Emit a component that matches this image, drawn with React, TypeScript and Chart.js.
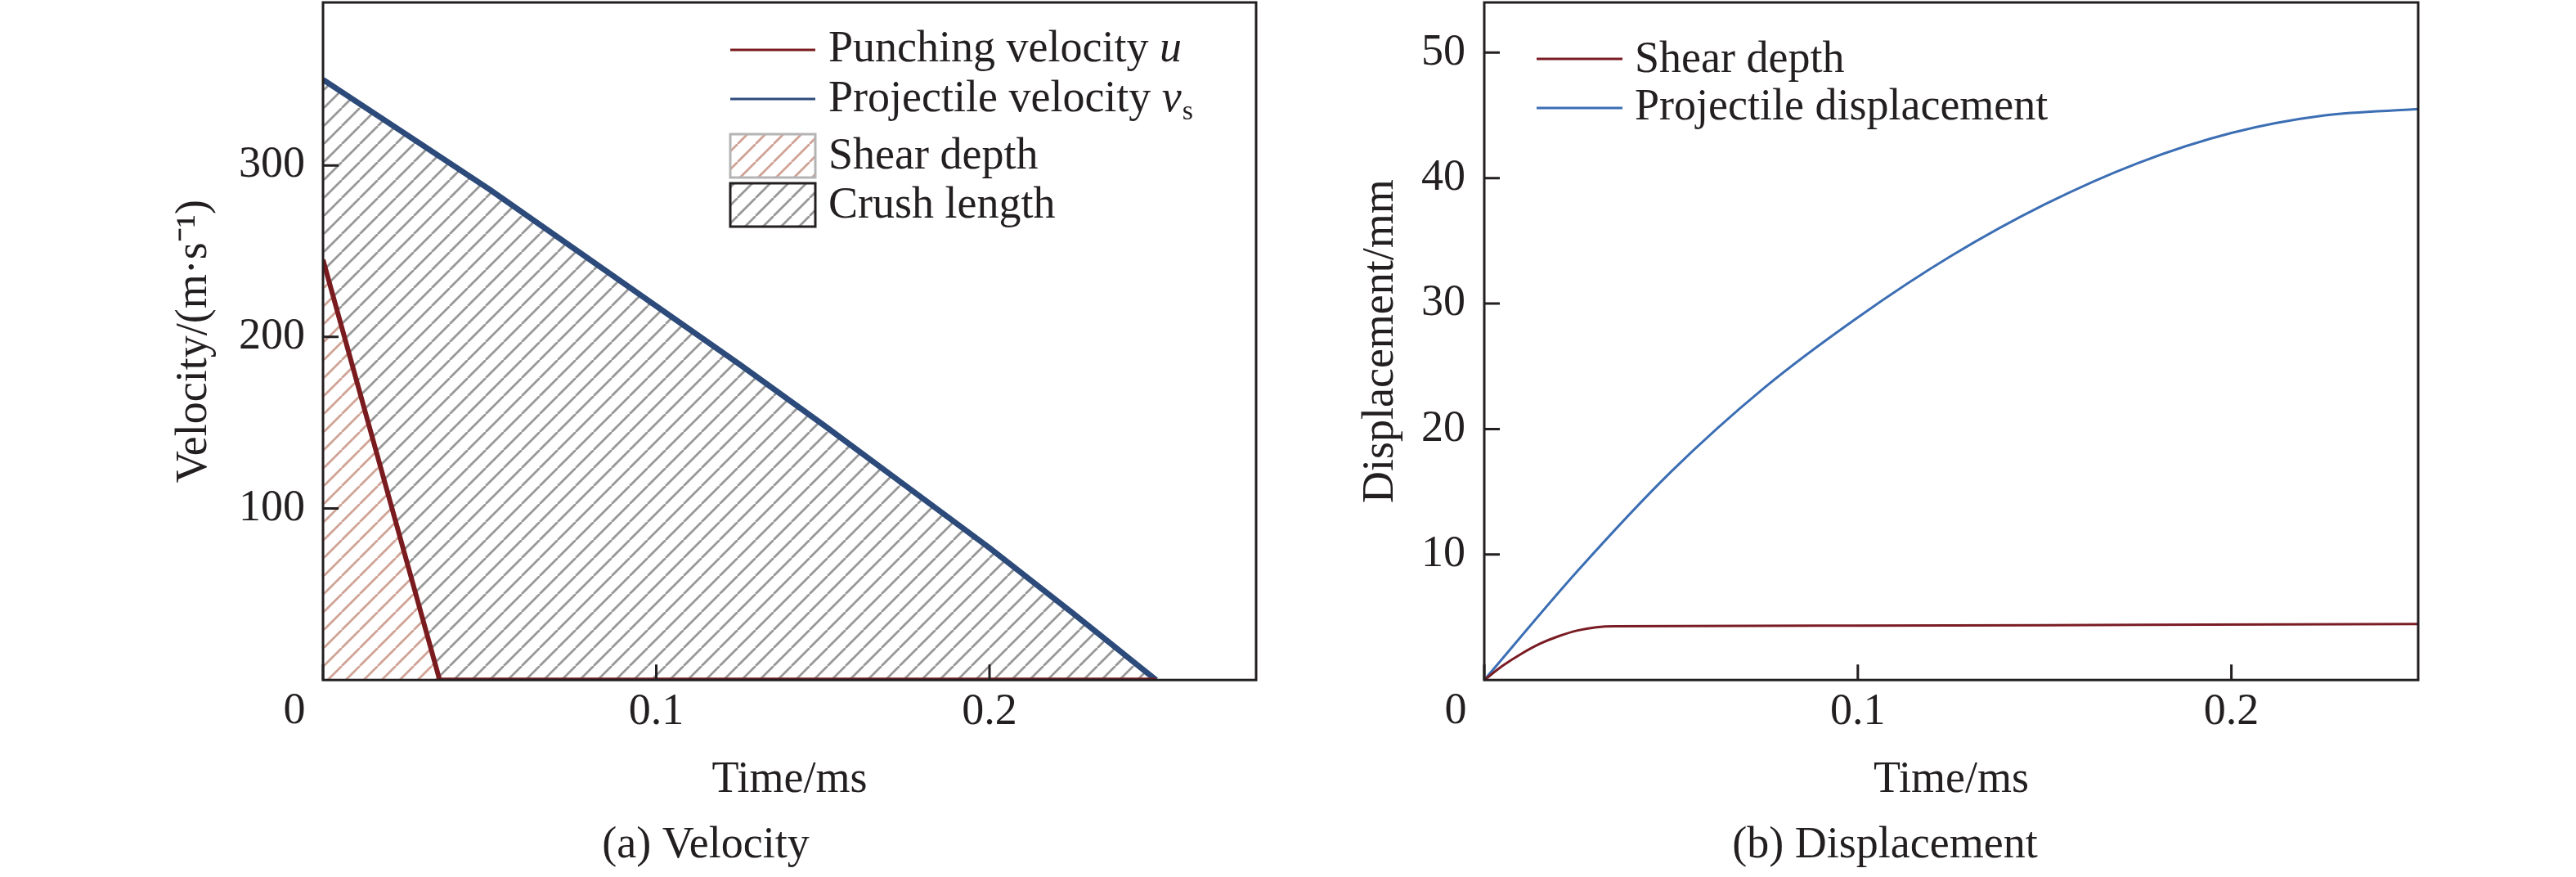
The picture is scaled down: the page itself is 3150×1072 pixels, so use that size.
import { Chart, registerables } from "chart.js"
import type { Plugin } from "chart.js"
import { useEffect, useRef } from "react"

Chart.register(...registerables)

// (a) velocity
const projectileTime = [0, 0.025, 0.05, 0.075, 0.1, 0.125, 0.15, 0.175, 0.2, 0.225, 0.25]
const projectileVelocity = [350, 318, 286, 252, 218, 184, 149, 113, 77, 39, 0]
const punchingTime = [0, 0.035, 0.25]
const punchingVelocity = [245, 0, 0]

// (b) displacement
const displacementTime = [0, 0.025, 0.05, 0.075, 0.1, 0.125, 0.15, 0.175, 0.2, 0.225, 0.25]
const projectileDisplacement = [0, 8.7, 16.6, 23.3, 28.9, 33.8, 37.9, 41.2, 43.6, 45.0, 45.5]
const shearTime = [0, 0.005, 0.01, 0.015, 0.02, 0.025, 0.03, 0.035, 0.1, 0.175, 0.25]
const shearDepth = [0, 1.15, 2.1, 2.9, 3.5, 3.95, 4.2, 4.28, 4.33, 4.4, 4.47]

// tick labels
const timeTicks = [0.1, 0.2]
const velocityTicks = [100, 200, 300]
const displacementTicks = [10, 20, 30, 40, 50]

const FONT = "'Liberation Serif', 'Times New Roman', Times, serif"
const INK = "#231f20"
const SIZE = 54

const RED_THICK = "#7a1c1f"
const BLUE_THICK = "#2c4a7a"
const RED_THIN = "#7a1c24"
const BLUE_THIN = "#3c6eb4"
const RED_HATCH = "rgb(208,163,150)"
const GRAY_HATCH = "rgb(152,152,152)"

const toPoints = (xs: number[], ys: number[]) => xs.map((x, i) => ({ x, y: ys[i] }))

// diagonal "////" hatch tile
function hatch(ctx: CanvasRenderingContext2D, color: string) {
  const size = 22
  const tile = document.createElement("canvas")
  tile.width = size
  tile.height = size
  const g = tile.getContext("2d")!
  g.strokeStyle = color
  g.lineWidth = 2.8
  g.beginPath()
  for (const k of [-1, 0, 1]) {
    g.moveTo(k * size, size)
    g.lineTo(k * size + size, 0)
  }
  g.stroke()
  return ctx.createPattern(tile, "repeat")!
}

// closed frame, inward ticks and the shared "0" at the corner
function framePlugin(xTicks: number[], yTicks: number[]): Plugin {
  return {
    id: "frame",
    afterDatasetsDraw(chart) {
      const { ctx, chartArea: a, scales } = chart
      ctx.save()
      ctx.strokeStyle = INK
      ctx.lineWidth = 3
      ctx.strokeRect(a.left, a.top, a.right - a.left, a.bottom - a.top)
      ctx.beginPath()
      xTicks.forEach((v) => {
        const px = scales.x.getPixelForValue(v)
        ctx.moveTo(px, a.bottom)
        ctx.lineTo(px, a.bottom - 19)
      })
      yTicks.forEach((v) => {
        const py = scales.y.getPixelForValue(v)
        ctx.moveTo(a.left, py)
        ctx.lineTo(a.left + 19, py)
      })
      ctx.stroke()
      ctx.fillStyle = INK
      ctx.font = `${SIZE}px ${FONT}`
      ctx.textAlign = "center"
      ctx.textBaseline = "middle"
      ctx.fillText("0", scales.x.getPixelForValue(0) - 35, a.bottom + 39)
      ctx.restore()
    },
  }
}

interface LegendPart {
  text: string
  italic?: boolean
  sub?: boolean
}

interface LegendEntry {
  kind: "line" | "box"
  stroke: string
  fill?: CanvasPattern | string
  y: number
  baseline: number
  parts: LegendPart[]
}

function legendPlugin(symbolX: number, symbolW: number, textX: number, entries: LegendEntry[]): Plugin {
  return {
    id: "insetLegend",
    afterDraw(chart) {
      const { ctx } = chart
      ctx.save()
      entries.forEach((e) => {
        ctx.lineWidth = 3
        ctx.strokeStyle = e.stroke
        if (e.kind === "line") {
          ctx.beginPath()
          ctx.moveTo(symbolX, e.y)
          ctx.lineTo(symbolX + symbolW, e.y)
          ctx.stroke()
        } else {
          ctx.fillStyle = e.fill as CanvasPattern
          ctx.fillRect(symbolX, e.y, symbolW, 53)
          ctx.strokeRect(symbolX, e.y, symbolW, 53)
        }
        let x = textX
        ctx.fillStyle = INK
        ctx.textAlign = "left"
        ctx.textBaseline = "alphabetic"
        e.parts.forEach((p) => {
          ctx.font = p.sub ? `34px ${FONT}` : `${p.italic ? "italic " : ""}${SIZE}px ${FONT}`
          ctx.fillText(p.text, x + (p.sub ? 1 : 0), e.baseline + (p.sub ? 10 : 0))
          x += ctx.measureText(p.text).width
        })
      })
      ctx.restore()
    },
  }
}

const font = { family: FONT, size: SIZE, weight: "normal" as const }

function axes(xMax: number, yMax: number, yTicks: number[], yTitle: string, yWidth: number, yTitlePad: number, yTickPad: number) {
  return {
    x: {
      type: "linear" as const,
      min: 0,
      max: xMax,
      afterBuildTicks: (s: any) => {
        s.ticks = timeTicks.map((value) => ({ value }))
      },
      afterFit: (s: any) => {
        s.height = 155
        s.paddingLeft = 0
        s.paddingRight = 0
        s.paddingTop = 0
        s.paddingBottom = 0
      },
      grid: { display: false, drawTicks: false, tickLength: 0 },
      border: { display: false },
      ticks: { color: INK, font, padding: 7, maxRotation: 0, autoSkip: false, callback: (v: any) => String(v) },
      title: { display: true, text: "Time/ms", color: INK, font, padding: { top: 0, bottom: 0 } },
    },
    y: {
      type: "linear" as const,
      min: 0,
      max: yMax,
      afterBuildTicks: (s: any) => {
        s.ticks = yTicks.map((value) => ({ value }))
      },
      afterFit: (s: any) => {
        s.width = yWidth
        s.paddingLeft = 0
        s.paddingRight = 0
        s.paddingTop = 0
        s.paddingBottom = 0
      },
      grid: { display: false, drawTicks: false, tickLength: 0 },
      border: { display: false },
      ticks: { color: INK, font, padding: yTickPad, autoSkip: false, callback: (v: any) => String(v) },
      title: { display: true, text: yTitle, color: INK, font, padding: { top: yTitlePad, bottom: 0 } },
    },
  }
}

export default function App() {
  const velocityRef = useRef<HTMLCanvasElement>(null)
  const displacementRef = useRef<HTMLCanvasElement>(null)

  useEffect(() => {
    const c1 = velocityRef.current
    const c2 = displacementRef.current
    if (!c1 || !c2) return
    const ctx1 = c1.getContext("2d")
    const ctx2 = c2.getContext("2d")
    if (!ctx1 || !ctx2) return

    const redHatch = hatch(ctx1, RED_HATCH)
    const grayHatch = hatch(ctx1, GRAY_HATCH)

    const velocityChart = new Chart(ctx1, {
      type: "line",
      data: {
        datasets: [
          {
            label: "Punching velocity u",
            data: toPoints(punchingTime, punchingVelocity),
            borderColor: RED_THICK,
            borderWidth: 6,
            backgroundColor: redHatch,
            fill: "origin",
            pointRadius: 0,
            tension: 0,
          },
          {
            label: "Projectile velocity vs",
            data: toPoints(projectileTime, projectileVelocity),
            borderColor: BLUE_THICK,
            borderWidth: 7,
            backgroundColor: grayHatch,
            fill: "-1",
            pointRadius: 0,
            tension: 0,
          },
        ],
      },
      options: {
        animation: false,
        responsive: false,
        devicePixelRatio: 1,
        events: [],
        layout: { padding: { left: 190, right: 39, top: 3, bottom: 6 } },
        scales: axes(0.28, 395, velocityTicks, "Velocity/(m·s⁻¹)", 205, 15, 22),
        plugins: {
          legend: { display: false },
          tooltip: { enabled: false },
          title: {
            display: true,
            position: "bottom",
            text: "(a) Velocity",
            color: INK,
            font,
            padding: { top: 15, bottom: 0 },
          },
        },
      },
      plugins: [
        framePlugin([0, ...timeTicks], velocityTicks),
        legendPlugin(893, 104, 1013, [
          { kind: "line", stroke: RED_THICK, y: 61, baseline: 75, parts: [{ text: "Punching velocity " }, { text: "u", italic: true }] },
          {
            kind: "line",
            stroke: BLUE_THICK,
            y: 121,
            baseline: 136,
            parts: [{ text: "Projectile velocity " }, { text: "v", italic: true }, { text: "s", sub: true }],
          },
          { kind: "box", stroke: "#b4b4b4", fill: redHatch, y: 164, baseline: 206, parts: [{ text: "Shear depth" }] },
          { kind: "box", stroke: INK, fill: grayHatch, y: 224, baseline: 266, parts: [{ text: "Crush length" }] },
        ]),
      ],
    })

    const displacementChart = new Chart(ctx2, {
      type: "line",
      data: {
        datasets: [
          {
            label: "Shear depth",
            data: toPoints(shearTime, shearDepth),
            borderColor: RED_THIN,
            borderWidth: 3,
            pointRadius: 0,
            cubicInterpolationMode: "monotone",
          },
          {
            label: "Projectile displacement",
            data: toPoints(displacementTime, projectileDisplacement),
            borderColor: BLUE_THIN,
            borderWidth: 3,
            pointRadius: 0,
            cubicInterpolationMode: "monotone",
          },
        ],
      },
      options: {
        animation: false,
        responsive: false,
        devicePixelRatio: 1,
        events: [],
        layout: { padding: { left: 78, right: 193, top: 3, bottom: 6 } },
        scales: axes(0.25, 54, displacementTicks, "Displacement/mm", 162, 3, 23),
        plugins: {
          legend: { display: false },
          tooltip: { enabled: false },
          title: {
            display: true,
            position: "bottom",
            text: "(b) Displacement",
            color: INK,
            font,
            padding: { top: 15, bottom: 0 },
          },
        },
      },
      plugins: [
        framePlugin([0, ...timeTicks], displacementTicks),
        legendPlugin(304, 105, 424, [
          { kind: "line", stroke: RED_THIN, y: 72, baseline: 88, parts: [{ text: "Shear depth" }] },
          { kind: "line", stroke: BLUE_THIN, y: 132, baseline: 146, parts: [{ text: "Projectile displacement" }] },
        ]),
      ],
    })

    return () => {
      velocityChart.destroy()
      displacementChart.destroy()
    }
  }, [])

  return (
    <div style={{ position: "absolute", left: 0, top: 0, width: 3150, height: 1072, background: "#fff" }}>
      <canvas ref={velocityRef} width={1575} height={1072} style={{ position: "absolute", left: 0, top: 0 }} />
      <canvas ref={displacementRef} width={1575} height={1072} style={{ position: "absolute", left: 1575, top: 0 }} />
    </div>
  )
}
